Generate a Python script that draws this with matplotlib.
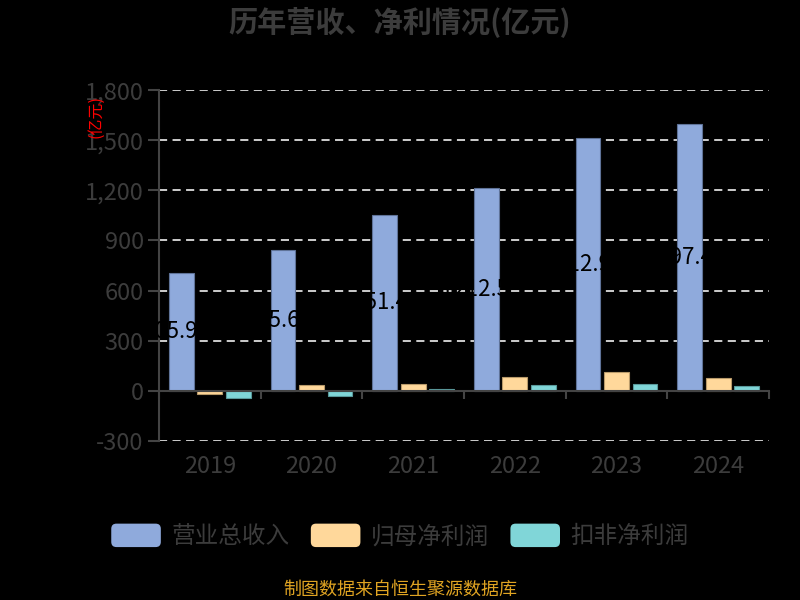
import numpy as np
import matplotlib
matplotlib.use('Agg')
from matplotlib import pyplot as plt
from matplotlib.patches import Patch, FancyBboxPatch
from matplotlib.legend_handler import HandlerPatch
from matplotlib.ticker import FuncFormatter
from matplotlib.transforms import offset_copy

plt.rcParams['font.family'] = ['Noto Sans CJK SC', 'DejaVu Sans']

years = ['2019', '2020', '2021', '2022', '2023', '2024']
revenue = [705.9, 845.6, 1051.4, 1212.5, 1512.9, 1597.4]
net_profit = [-22, 36, 38, 80, 114, 76]
net_profit_deducted = [-45, -30, 10, 36, 40, 28]
series_names = ['营业总收入', '归母净利润', '扣非净利润']

colors = ['#8FAADC', '#FFD89B', '#80D6D8']
edges = ['#5f7398', '#b89a6a', '#5a9a9c']
grey = '#444444'
text_grey = '#3c3c3c'


class RoundHandler(HandlerPatch):
    def create_artists(self, legend, orig_handle, xdescent, ydescent,
                       width, height, fontsize, trans):
        p = FancyBboxPatch((-xdescent, -ydescent), width, height,
                           boxstyle='round,pad=0,rounding_size=%f' % (height * 0.22),
                           fc=orig_handle.get_facecolor(), ec='none', transform=trans)
        return [p]


fig = plt.figure(figsize=(8, 6), dpi=100, facecolor='black')
ax = fig.add_axes([159 / 800, 1 - 440.7 / 600, 610 / 800, 350.4 / 600])
ax.set_facecolor('black')

x = np.arange(len(years))
w = 0.245
off = 0.28
ax.bar(x - off, revenue, w, color=colors[0], edgecolor=edges[0], linewidth=0.8, zorder=2)
ax.bar(x, net_profit, w, color=colors[1], edgecolor=edges[1], linewidth=0.8, zorder=2)
ax.bar(x + off, net_profit_deducted, w, color=colors[2], edgecolor=edges[2], linewidth=0.8, zorder=2)

# value labels (black, centred a little left of the revenue bar)
lbl_trans = offset_copy(ax.transData, fig=fig, x=-11, y=0, units='dots')
for xi, v in zip(x, revenue):
    ax.text(xi - off, v / 2, '{:.1f}'.format(v), transform=lbl_trans,
            ha='center', va='center', fontsize=16, color='black', zorder=5)

ax.set_xlim(-0.5, 5.5)
ax.set_ylim(-300, 1800)
ax.set_yticks(np.arange(-300, 1801, 300))
ax.yaxis.set_major_formatter(FuncFormatter(lambda v, p: '{:,.0f}'.format(v)))
ax.tick_params(axis='y', length=8, width=1.5, color=grey, labelcolor=text_grey,
               labelsize=17, pad=3)

ax.set_xticks(np.arange(-0.5, 6, 1))
ax.set_xticklabels([])
ax.tick_params(axis='x', length=6, width=1.5, color=grey, direction='out')

ax.yaxis.grid(True, color='#dddddd', linestyle=(0, (4.5, 3)), linewidth=1.3, zorder=0)
ax.set_axisbelow(True)

for s in ['top', 'right']:
    ax.spines[s].set_visible(False)
ax.spines['left'].set_color(grey)
ax.spines['left'].set_linewidth(1.5)
ax.spines['bottom'].set_position(('data', 0))
ax.spines['bottom'].set_color(grey)
ax.spines['bottom'].set_linewidth(1.5)
ax.spines['bottom'].set_zorder(3)

sec = ax.secondary_xaxis(0)
sec.set_xticks(x)
sec.set_xticklabels(years)
sec.tick_params(length=0, labelsize=17, labelcolor=text_grey, pad=10)
sec.spines['bottom'].set_visible(False)

fig.text(96 / 800, 1 - 116 / 600, '(亿元)', rotation=90, color='red',
         fontsize=11.5, ha='center', va='center')

fig.text(0.5, 1 - 22 / 600, '历年营收、净利情况(亿元)', ha='center', va='center',
         fontsize=21, fontweight='bold', color=text_grey)

handles = [Patch(facecolor=c, label=n) for c, n in zip(colors, series_names)]
leg = fig.legend(handles=handles, loc='center', bbox_to_anchor=(0.5, 1 - 536 / 600),
                 ncol=3, frameon=False, fontsize=17, handlelength=2.1, handleheight=1.15,
                 handletextpad=0.45, columnspacing=0.9,
                 handler_map={Patch: RoundHandler()})
for t in leg.get_texts():
    t.set_color(text_grey)

fig.text(0.5, 1 - 590 / 600, '制图数据来自恒生聚源数据库', ha='center', va='center',
         fontsize=13, color='#E0A422')

fig.savefig('out.png', dpi=100, facecolor='black')
